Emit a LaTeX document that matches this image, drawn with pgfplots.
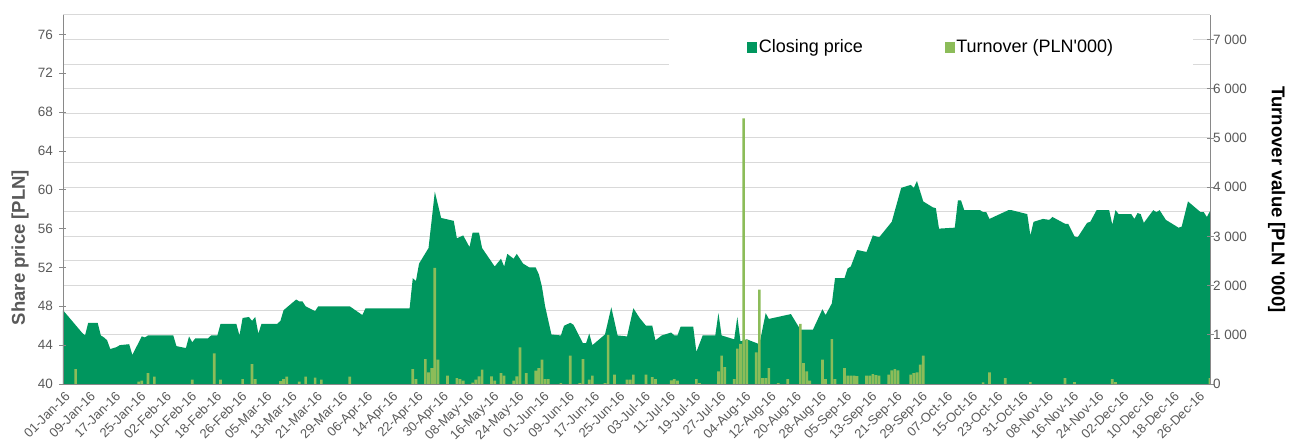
\documentclass[border=0pt]{standalone}
\usepackage{fontspec}
\setmainfont[Ligatures=TeXOff]{Liberation Sans}
\usepackage{pgfplots}
\usepackage{pgfplotstable}
\pgfplotsset{compat=1.18}
\definecolor{closegreen}{RGB}{0,150,94}
\definecolor{turngreen}{RGB}{140,188,89}
\definecolor{txtgray}{RGB}{89,89,89}
\definecolor{gridgray}{RGB}{217,217,217}
\definecolor{axgray}{RGB}{137,137,137}

\pgfplotstableread{
day price
0 47.6
6 45.3
7 45.0
8 46.3
11 46.3
12 45.0
13 44.8
14 44.5
15 43.6
17 43.8
18 44.0
21 44.1
22 43.0
25 44.9
26 44.8
27 45.0
35 45.0
36 43.9
39 43.7
40 44.9
41 44.3
42 44.7
46 44.7
47 45.0
49 45.0
50 46.2
55 46.2
56 45.0
57 46.8
59 46.9
60 46.5
61 46.9
62 45.2
63 46.2
68 46.2
69 46.5
70 47.6
74 48.7
75 48.5
76 48.5
77 48.0
80 47.5
81 48.0
91 48.0
95 47.1
96 47.8
110 47.8
111 50.9
112 50.6
113 52.4
116 54.0
118 59.8
120 57.1
124 56.8
125 55.0
127 55.3
129 54.1
130 55.6
132 55.6
133 54.0
137 52.1
139 52.9
140 52.1
141 53.4
143 52.9
144 53.4
146 52.4
148 52.0
150 52.0
151 51.3
152 50.0
153 48.0
155 45.1
158 45.0
159 46.0
161 46.3
162 46.1
165 44.2
166 44.2
167 45.2
168 44.0
172 45.1
174 47.9
176 45.0
179 44.9
181 47.8
183 46.8
185 46.0
187 46.0
188 44.5
190 45.0
193 45.3
194 45.0
195 45.0
196 45.9
200 45.9
201 43.3
203 45.0
207 45.0
208 47.3
209 45.0
213 44.6
214 46.9
215 44.4
217 44.6
221 44.1
223 47.3
224 46.7
231 47.2
234 45.6
238 45.6
241 47.7
242 47.1
244 48.3
245 50.9
248 50.9
249 51.9
250 52.1
252 53.8
255 53.6
257 55.3
259 55.1
263 56.7
266 60.2
269 60.5
270 60.2
271 60.9
273 58.8
276 58.2
277 58.1
278 56.0
283 56.1
284 58.9
285 58.9
286 57.9
291 57.9
292 57.7
293 57.7
294 57.0
300 57.9
301 57.9
306 57.5
307 55.3
308 56.7
311 57.0
313 56.9
314 57.2
318 56.5
319 56.5
321 55.2
322 55.1
325 56.6
326 56.7
328 57.9
332 57.9
333 56.4
334 57.9
335 57.5
339 57.5
340 57.0
341 57.6
342 57.5
343 56.6
346 57.9
347 57.7
348 57.9
350 56.9
354 56.1
355 56.2
357 58.8
361 57.7
362 57.7
363 57.2
364 57.8
}\pricetable

\pgfplotstableread{
day turnover
4 300
24 50
25 70
27 220
29 150
41 90
48 620
50 90
57 100
60 405
61 100
69 60
70 100
71 150
75 50
77 150
80 130
82 90
91 150
111 304
112 100
115 507
116 237
117 325
118 2360
119 493
122 170
125 120
126 100
127 70
130 30
131 90
132 155
133 290
136 155
137 70
139 220
140 170
143 70
144 155
145 744
147 220
150 270
151 325
152 493
153 100
154 100
158 20
161 575
164 20
165 507
167 90
168 170
172 20
173 1000
175 190
179 90
180 90
181 190
185 190
187 140
188 100
193 75
194 100
195 70
201 100
202 20
208 257
209 575
210 345
213 100
214 717
215 818
216 5400
217 900
220 642
221 1920
222 120
223 120
224 325
227 20
230 100
234 1220
235 426
236 257
237 70
241 493
242 100
244 913
245 100
248 325
249 170
250 170
251 170
252 160
255 170
256 170
257 200
258 180
259 170
262 190
263 277
264 304
265 277
269 190
270 223
271 237
272 392
273 575
292 35
294 237
299 120
307 40
318 120
321 40
333 100
334 40
364 120
}\turntable

\begin{document}
\begin{tikzpicture}
\pgfplotsset{
  base/.style={
    width=1147pt, height=369pt, scale only axis,
    xmin=0, xmax=364,
    /pgf/number format/assume math mode=true,
    tick label style={font=\fontsize{13.5}{15}\selectfont, text=txtgray},
    tick align=center, major tick length=7pt,
  },
}
% grid layer (right-axis scale)
\begin{axis}[base, name=ax,
  ymin=0, ymax=7500,
  xtick=\empty,
  ytick={0,500,...,7500}, yticklabels={},
  ymajorgrids, major grid style={gridgray, line width=1pt},
  axis line style={draw=none}, tick style={draw=none},
]
\end{axis}
% price area (left axis)
\begin{axis}[base,
  ymin=40, ymax=78,
  axis on top,
  axis y line*=left, axis x line*=bottom,
  axis line style={axgray, line width=0.9pt},
  ytick={40,44,...,76},
  yticklabel style={xshift=-3pt},
  ytick style={axgray, line width=0.8pt},
  xtick={0,8,...,360},
  xticklabels={01-Jan-16,09-Jan-16,17-Jan-16,25-Jan-16,02-Feb-16,10-Feb-16,18-Feb-16,26-Feb-16,05-Mar-16,13-Mar-16,21-Mar-16,29-Mar-16,06-Apr-16,14-Apr-16,22-Apr-16,30-Apr-16,08-May-16,16-May-16,24-May-16,01-Jun-16,09-Jun-16,17-Jun-16,25-Jun-16,03-Jul-16,11-Jul-16,19-Jul-16,27-Jul-16,04-Aug-16,12-Aug-16,20-Aug-16,28-Aug-16,05-Sep-16,13-Sep-16,21-Sep-16,29-Sep-16,07-Oct-16,15-Oct-16,23-Oct-16,31-Oct-16,08-Nov-16,16-Nov-16,24-Nov-16,02-Dec-16,10-Dec-16,18-Dec-16,26-Dec-16},
  xticklabel style={rotate=45, anchor=north east, inner sep=1pt, yshift=-2pt, font=\fontsize{13}{15}\selectfont},
  xtick style={draw=none},
  ylabel={Share price [PLN]},
  every axis y label/.style={at={(axis description cs:-0.0375,0.37)}, rotate=90, anchor=center,
    font=\bfseries\fontsize{18.5}{20}\selectfont, text=txtgray},
]
\addplot[fill=closegreen, draw=none] table[x=day, y=price] {\pricetable} \closedcycle;
\end{axis}
% turnover bars (right axis)
\begin{axis}[base,
  ymin=0, ymax=7500,
  axis on top,
  axis y line*=right, axis x line*=bottom,
  axis line style={axgray, line width=0.9pt},
  xtick=\empty,
  ytick={0,1000,...,7000},
  yticklabels={0,1 000,2 000,3 000,4 000,5 000,6 000,7 000},
  yticklabel style={xshift=-4pt},
  ytick style={axgray, line width=0.8pt},
  ylabel={Turnover value [PLN '000]},
  every axis y label/.style={at={(axis description cs:1.058,0.5)}, rotate=-90, anchor=center,
    font=\bfseries\fontsize{18.5}{20}\selectfont, text=black},
  legend columns=2,
  legend style={at={(axis description cs:0.757,0.913)}, anchor=center,
    fill=white, draw=none, inner xsep=78pt, inner ysep=11pt,
    font=\fontsize{18}{20}\selectfont,
    /tikz/every even column/.append style={column sep=80pt}},
]
\addplot[ybar, bar width=0.85, fill=turngreen, draw=none, forget plot]
  table[x=day, y=turnover] {\turntable};
\addlegendimage{legend image code/.code={\fill[closegreen] (0pt,-5pt) rectangle (9pt,5pt);}}
\addlegendentry{Closing price}
\addlegendimage{legend image code/.code={\fill[turngreen] (0pt,-5pt) rectangle (9pt,5pt);}}
\addlegendentry{Turnover (PLN'000)}
\end{axis}
\pgfresetboundingbox
\path ([xshift=-63pt,yshift=-59pt]ax.south west) rectangle ([xshift=79pt,yshift=15pt]ax.north east);
\end{tikzpicture}
\end{document}
